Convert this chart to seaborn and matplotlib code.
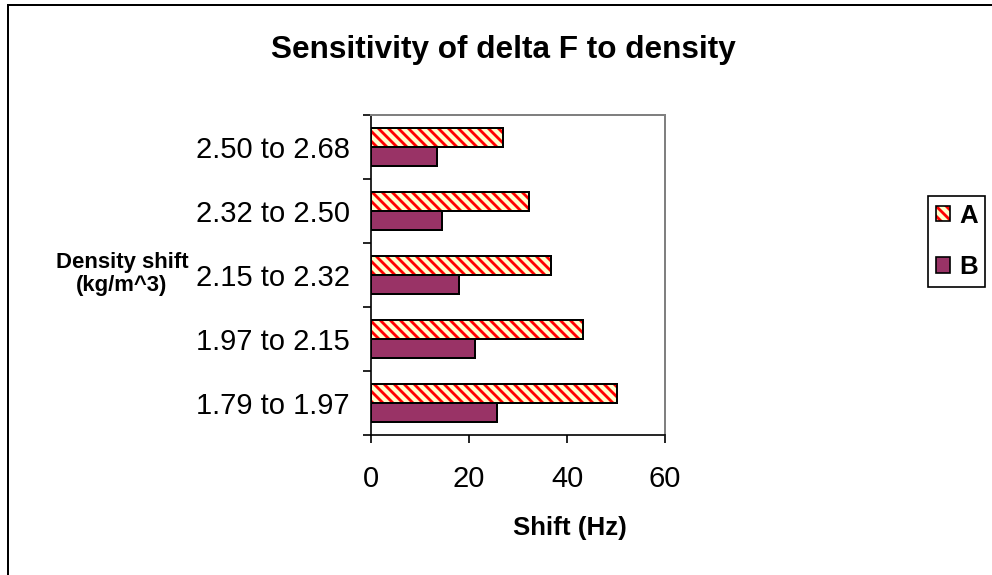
import numpy as np
import pandas as pd
import matplotlib
matplotlib.use("Agg")
import matplotlib.pyplot as plt
from matplotlib.patches import Rectangle, Patch
from matplotlib.legend_handler import HandlerTuple
import seaborn as sns

# ---- data ----
categories = ["2.50 to 2.68", "2.32 to 2.50", "2.15 to 2.32", "1.97 to 2.15", "1.79 to 1.97"]
series_a = [26.9, 32.2, 36.7, 43.3, 50.2]
series_b = [13.5, 14.4, 18.0, 21.2, 25.7]
series_names = ["A", "B"]
x_ticks = [0, 20, 40, 60]

sns.set_style("white")
plt.rcParams["font.family"] = ["Liberation Sans", "DejaVu Sans"]
plt.rcParams["hatch.linewidth"] = 1.7
plt.rcParams["text.color"] = "black"
plt.rcParams["xtick.color"] = "black"
plt.rcParams["ytick.color"] = "black"
plt.rcParams["axes.labelcolor"] = "black"

df = pd.DataFrame({
    "range": categories * 2,
    "shift": series_a + series_b,
    "series": [series_names[0]] * len(categories) + [series_names[1]] * len(categories),
})

DPI = 120
W, H = 992, 575
HATCH = "\\\\\\\\"
fig = plt.figure(figsize=(W / DPI, H / DPI), dpi=DPI)
fig.patch.set_facecolor("white")
ax = fig.add_axes([371 / W, 1 - 435 / H, 294 / W, 320 / H])

palette = {"A": "#FFFFCC", "B": "#993366"}
sns.barplot(data=df, y="range", x="shift", hue="series", orient="h",
            order=categories, hue_order=series_names, palette=palette,
            width=0.58, edgecolor="black", linewidth=1.2, saturation=1,
            legend=False, ax=ax)

# hatch the A bars (red stripes on yellow), with black outline on top
for bar in ax.containers[0]:
    bar.set_hatch(HATCH)
    bar.set_edgecolor("red")
    bar.set_linewidth(0)
    ax.add_patch(Rectangle((bar.get_x(), bar.get_y()), bar.get_width(), bar.get_height(),
                           fill=False, edgecolor="black", linewidth=1.2, zorder=3))

ax.set_xlim(0, 60)
ax.set_ylim(len(categories) - 0.5, -0.5)
ax.set_xticks(x_ticks)
ax.set_xticklabels([str(t) for t in x_ticks])
ax.set_xlabel("")
ax.set_ylabel("")
ax.set_facecolor("white")

for s in ["top", "right"]:
    ax.spines[s].set_color("#808080")
    ax.spines[s].set_linewidth(1.2)
for s in ["left", "bottom"]:
    ax.spines[s].set_color("black")
    ax.spines[s].set_linewidth(1.0)

ax.set_yticks(np.arange(-0.5, len(categories), 1), minor=True)
ax.tick_params(axis="y", which="major", length=0, pad=12.6, labelsize=17.5, labelcolor="black")
ax.tick_params(axis="y", which="minor", length=4.8, width=1, direction="out", color="black", left=True)
ax.tick_params(axis="x", which="major", length=4.8, width=1, direction="out", color="black",
               pad=13, labelsize=17.5, bottom=True, labelcolor="black")

# title and axis labels
fig.text(503 / W, 1 - 50 / H, "Sensitivity of delta F to density", ha="center", va="center",
         fontsize=18.9, fontweight="bold", color="black")
fig.text(570 / W, 1 - 528 / H, "Shift (Hz)", ha="center", va="center",
         fontsize=15.5, fontweight="bold", color="black")
fig.text(122 / W, 1 - 274 / H, "Density shift\n(kg/m^3)", ha="center", va="center",
         multialignment="center", fontsize=13.3, fontweight="bold", linespacing=1.15, color="black")

# legend
h_a = (Patch(facecolor="#FFFFCC", edgecolor="red", hatch=HATCH, linewidth=0),
       Patch(facecolor="none", edgecolor="black", linewidth=1))
h_b = Patch(facecolor="#993366", edgecolor="black", linewidth=1)
leg = fig.legend([h_a, h_b], series_names, loc="upper left",
                 bbox_to_anchor=(928 / W, 1 - 196 / H), borderaxespad=0,
                 handler_map={tuple: HandlerTuple(ndivide=1)},
                 frameon=True, fancybox=False, framealpha=1, edgecolor="black",
                 prop={"weight": "bold", "size": 15.5}, handlelength=0.55, handleheight=0.55,
                 handletextpad=0.35, borderpad=0.3, labelspacing=1.05)
leg.get_frame().set_linewidth(1)
for t in leg.get_texts():
    t.set_color("black")

# outer chart frame (left and top visible)
fig.add_artist(Rectangle((8 / W, -0.1), 1.2, (1 - 5 / H) + 0.1, transform=fig.transFigure,
                         fill=False, edgecolor="black", linewidth=1.2, clip_on=False))

fig.savefig("out.png", dpi=DPI)
